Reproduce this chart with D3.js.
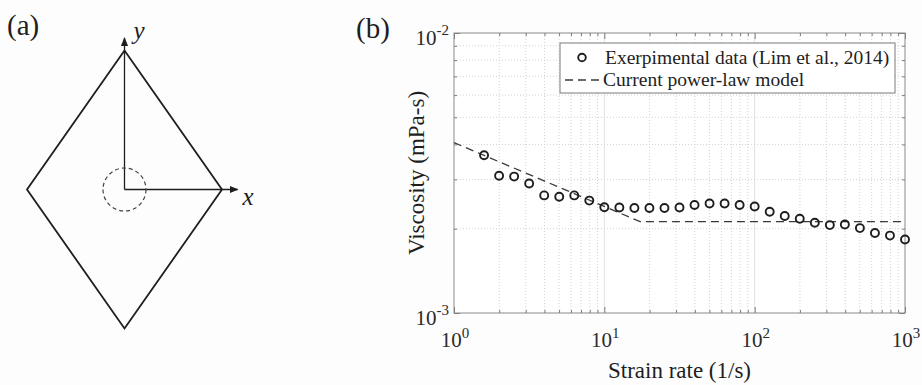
<!DOCTYPE html>
<html>
<head>
<meta charset="utf-8">
<script src="https://cdn.jsdelivr.net/npm/d3@7"></script>
<style>
  body { margin: 0; background: #fdfdfd; }
  svg { font-family: "Liberation Serif", "Times New Roman", serif; }
</style>
</head>
<body>
<svg id="fig" width="922" height="385"></svg>
<script>
var strainRate = [1.585, 1.995, 2.512, 3.162, 3.981, 5.012, 6.310, 7.943, 10.0, 12.59,
  15.85, 19.95, 25.12, 31.62, 39.81, 50.12, 63.10, 79.43, 100.0, 125.9,
  158.5, 199.5, 251.2, 316.2, 398.1, 501.2, 631.0, 794.3, 1000];
var viscosity = [3.66e-3, 3.09e-3, 3.07e-3, 2.90e-3, 2.63e-3, 2.60e-3, 2.63e-3, 2.52e-3, 2.385e-3, 2.38e-3,
  2.37e-3, 2.37e-3, 2.37e-3, 2.38e-3, 2.43e-3, 2.46e-3, 2.46e-3, 2.43e-3, 2.40e-3, 2.30e-3,
  2.22e-3, 2.17e-3, 2.10e-3, 2.06e-3, 2.07e-3, 2.01e-3, 1.93e-3, 1.89e-3, 1.83e-3];

// power-law model (dashed line)
var modelRate = [1, 17.3, 1000];
var modelVisc = [4.06e-3, 2.12e-3, 2.12e-3];

var xTickExp = [0, 1, 2, 3];
var yTickExp = [-3, -2];
var legendLabels = ["Exerpimental data (Lim et al., 2014)", "Current power-law model"];

var svg = d3.select("#fig");
var ink = "#1e1e1e";

// ---------------- panel (a): schematic ----------------
var sx = d3.scaleLinear().domain([-1, 1]).range([27, 222]);
var sy = d3.scaleLinear().domain([-1, 1]).range([328.5, 50.5]);

var defs = svg.append("defs");
defs.append("marker")
  .attr("id", "arrow")
  .attr("viewBox", "0 0 10 10")
  .attr("refX", 9).attr("refY", 5)
  .attr("markerWidth", 9).attr("markerHeight", 9)
  .attr("markerUnits", "userSpaceOnUse")
  .attr("orient", "auto")
  .append("path")
  .attr("d", "M0,1 L10,5 L0,9 Z")
  .attr("fill", ink);

var diamond = [[0, 1], [1, 0], [0, -1], [-1, 0], [0, 1]];
svg.append("path")
  .attr("d", d3.line().x(d => sx(d[0])).y(d => sy(d[1]))(diamond))
  .attr("fill", "none")
  .attr("stroke", ink)
  .attr("stroke-width", 1.8)
  .attr("stroke-linejoin", "miter");

// local axes
svg.append("line")
  .attr("x1", sx(0)).attr("y1", sy(0))
  .attr("x2", sx(0)).attr("y2", sy(1.09))
  .attr("stroke", ink).attr("stroke-width", 1.3)
  .attr("marker-end", "url(#arrow)");
svg.append("line")
  .attr("x1", sx(0)).attr("y1", sy(0))
  .attr("x2", sx(1.16)).attr("y2", sy(0))
  .attr("stroke", ink).attr("stroke-width", 1.3)
  .attr("marker-end", "url(#arrow)");

svg.append("circle")
  .attr("cx", sx(0)).attr("cy", sy(0))
  .attr("r", 21.5)
  .attr("fill", "none")
  .attr("stroke", "#444")
  .attr("stroke-width", 1.2)
  .attr("stroke-dasharray", "4,3");

svg.append("text")
  .attr("x", sx(0) + 9).attr("y", sy(1.09) + 1)
  .attr("font-size", 25).attr("font-style", "italic").attr("fill", ink)
  .text("y");
svg.append("text")
  .attr("x", sx(1.16) + 5).attr("y", sy(0) + 15)
  .attr("font-size", 25).attr("font-style", "italic").attr("fill", ink)
  .text("x");

svg.append("text")
  .attr("x", 7).attr("y", 35)
  .attr("font-size", 29).attr("fill", ink)
  .text("(a)");

// ---------------- panel (b): viscosity vs strain rate ----------------
var x = d3.scaleLog().domain([1, 1000]).range([454, 905]);
var y = d3.scaleLog().domain([1e-3, 1e-2]).range([313, 33]);
var x0 = x.range()[0], x1 = x.range()[1];
var yTop = y.range()[1], yBot = y.range()[0];

var xMajor = xTickExp.map(e => Math.pow(10, e));
var yMajor = yTickExp.map(e => Math.pow(10, e));
var xAll = x.ticks();
var yAll = y.ticks();
var isMajorX = v => xMajor.some(m => Math.abs(m - v) / m < 1e-6);
var isMajorY = v => yMajor.some(m => Math.abs(m - v) / m < 1e-6);

svg.append("rect")
  .attr("x", x0).attr("y", yTop)
  .attr("width", x1 - x0).attr("height", yBot - yTop)
  .attr("fill", "#ffffff");

// grid
var grid = svg.append("g");
grid.selectAll(".gx")
  .data(xAll.filter(v => v > 1 && v < 1000))
  .enter().append("line")
  .attr("x1", d => x(d)).attr("x2", d => x(d))
  .attr("y1", yTop).attr("y2", yBot)
  .attr("stroke", d => isMajorX(d) ? "#e2e2e2" : "#d2d2d2")
  .attr("stroke-width", 1)
  .attr("stroke-dasharray", d => isMajorX(d) ? null : "1,2");
grid.selectAll(".gy")
  .data(yAll.filter(v => v > 1e-3 * 1.001 && v < 1e-2 * 0.999))
  .enter().append("line")
  .attr("y1", d => y(d)).attr("y2", d => y(d))
  .attr("x1", x0).attr("x2", x1)
  .attr("stroke", "#d2d2d2")
  .attr("stroke-width", 1)
  .attr("stroke-dasharray", "1,2");

// tick marks, pointing inwards on all four sides
function tickAxis(axis, transform, values, size) {
  var g = svg.append("g")
    .attr("transform", transform)
    .call(axis.tickValues(values).tickSize(size).tickFormat(""));
  g.select(".domain").remove();
  g.selectAll(".tick line").attr("stroke", "#7a7a7a").attr("stroke-width", 1);
}
var xMinor = xAll.filter(v => !isMajorX(v));
var yMinor = yAll.filter(v => !isMajorY(v));
tickAxis(d3.axisBottom(x), `translate(0,${yBot})`, xMajor, -6);
tickAxis(d3.axisBottom(x), `translate(0,${yBot})`, xMinor, -3);
tickAxis(d3.axisTop(x), `translate(0,${yTop})`, xMajor, -6);
tickAxis(d3.axisTop(x), `translate(0,${yTop})`, xMinor, -3);
tickAxis(d3.axisLeft(y), `translate(${x0},0)`, yMajor, -6);
tickAxis(d3.axisLeft(y), `translate(${x0},0)`, yMinor, -3);
tickAxis(d3.axisRight(y), `translate(${x1},0)`, yMajor, -6);
tickAxis(d3.axisRight(y), `translate(${x1},0)`, yMinor, -3);

svg.append("rect")
  .attr("x", x0).attr("y", yTop)
  .attr("width", x1 - x0).attr("height", yBot - yTop)
  .attr("fill", "none")
  .attr("stroke", "#8a8a8a")
  .attr("stroke-width", 1);

// tick labels with superscript exponents
var tickColor = "#2a2a2a";
xTickExp.forEach(function(e) {
  var t = svg.append("text")
    .attr("x", x(Math.pow(10, e)) + 1).attr("y", yBot + 34)
    .attr("text-anchor", "middle")
    .attr("font-size", 21).attr("fill", tickColor);
  t.append("tspan").text("10");
  t.append("tspan").attr("dy", -9).attr("font-size", 15).text(e);
});
yTickExp.forEach(function(e) {
  var t = svg.append("text")
    .attr("x", x0 - 5).attr("y", y(Math.pow(10, e)) + 12)
    .attr("text-anchor", "end")
    .attr("font-size", 21).attr("fill", tickColor);
  t.append("tspan").text("10");
  t.append("tspan").attr("dy", -10).attr("font-size", 15).text(e);
});

// axis titles
svg.append("text")
  .attr("x", (x0 + x1) / 2).attr("y", 378)
  .attr("text-anchor", "middle")
  .attr("font-size", 23).attr("fill", ink)
  .text("Strain rate (1/s)");
svg.append("text")
  .attr("transform", `translate(424,${(yTop + yBot) / 2}) rotate(-90)`)
  .attr("text-anchor", "middle")
  .attr("font-size", 23).attr("fill", ink)
  .text("Viscosity (mPa-s)");

svg.append("text")
  .attr("x", 356).attr("y", 38)
  .attr("font-size", 29).attr("fill", ink)
  .text("(b)");

// model line
svg.append("path")
  .attr("d", d3.line().x(d => x(d[0])).y(d => y(d[1]))(d3.zip(modelRate, modelVisc)))
  .attr("fill", "none")
  .attr("stroke", "#3a3a3a")
  .attr("stroke-width", 1.3)
  .attr("stroke-dasharray", "8,5");

// experimental points
svg.append("g").selectAll("circle")
  .data(d3.zip(strainRate, viscosity))
  .enter().append("circle")
  .attr("cx", d => x(d[0]))
  .attr("cy", d => y(d[1]))
  .attr("r", 4)
  .attr("fill", "none")
  .attr("stroke", ink)
  .attr("stroke-width", 1.9);

// legend
var leg = svg.append("g");
leg.append("rect")
  .attr("x", 560).attr("y", 43)
  .attr("width", 335).attr("height", 50)
  .attr("fill", "#ffffff")
  .attr("stroke", "#7a7a7a")
  .attr("stroke-width", 1);
leg.append("circle")
  .attr("cx", 582).attr("cy", 57.5).attr("r", 3.8)
  .attr("fill", "none").attr("stroke", ink).attr("stroke-width", 1.9);
leg.append("line")
  .attr("x1", 565).attr("x2", 603).attr("y1", 80).attr("y2", 80)
  .attr("stroke", "#3a3a3a").attr("stroke-width", 1.3)
  .attr("stroke-dasharray", "8,5");
leg.selectAll(".lt")
  .data(legendLabels)
  .enter().append("text")
  .attr("x", (d, i) => i === 0 ? 605 : 603)
  .attr("y", (d, i) => i === 0 ? 63.5 : 86)
  .attr("font-size", 19.5).attr("fill", ink)
  .text(d => d);
</script>
</body>
</html>
